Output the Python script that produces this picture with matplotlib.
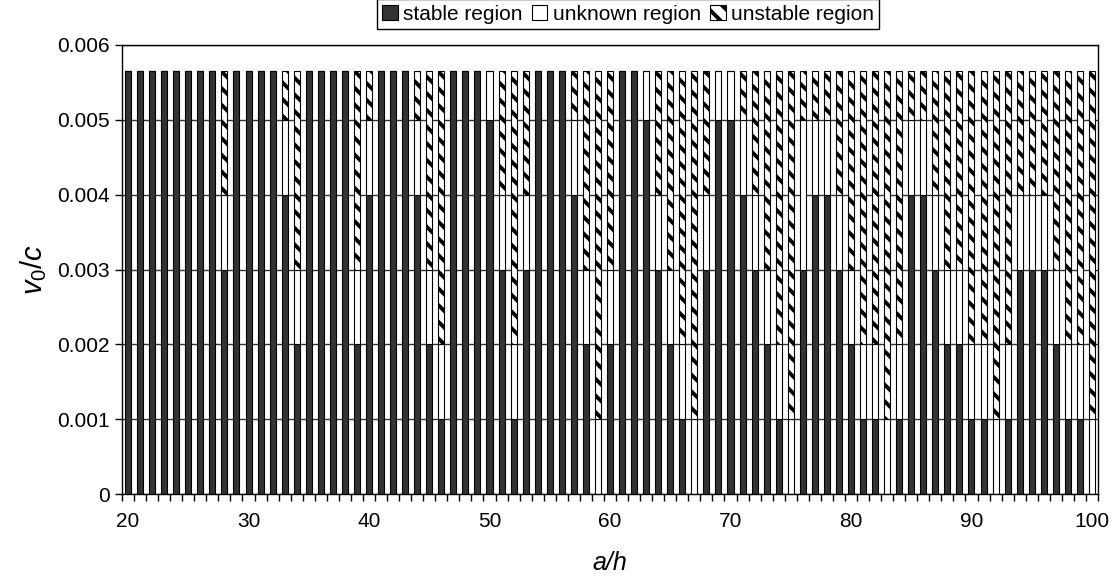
import numpy as np
import matplotlib.pyplot as plt
from matplotlib.patches import Patch

plt.rcParams['font.family'] = ['Liberation Sans', 'DejaVu Sans']
plt.rcParams['mathtext.fontset'] = 'custom'
plt.rcParams['mathtext.it'] = 'Liberation Sans:italic'
plt.rcParams['mathtext.rm'] = 'Liberation Sans'
plt.rcParams['hatch.linewidth'] = 2.8

# a/h values, one bar each
ah = list(range(20, 101))
v_max = 5.65  # top of every bar, in units of 1e-3

# upper limit of the stable region (x 1e-3)
stable_top = [5.65, 5.65, 5.65, 5.65, 5.65, 5.65, 5.65, 5.65, 3, 5.65,
              5.65, 5.65, 5.65, 4, 2, 5.65, 5.65, 5.65, 5.65, 2,
              4, 5.65, 5.65, 5.65, 4, 2, 1, 5.65, 5.65, 5.65,
              5, 3, 1, 3, 5.65, 5.65, 5.65, 4, 2, 0,
              2, 5.65, 5.65, 5, 3, 2, 1, 0, 3, 5,
              5, 4, 3, 2, 1, 0, 3, 4, 4, 3,
              2, 1, 1, 0, 1, 4, 4, 3, 2, 2,
              1, 1, 0, 1, 3, 3, 3, 2, 1, 1,
              0]
# lower limit of the unstable region (x 1e-3)
unstable_bottom = [5.65, 5.65, 5.65, 5.65, 5.65, 5.65, 5.65, 5.65, 4, 5.65,
                   5.65, 5.65, 5.65, 5, 3, 5.65, 5.65, 5.65, 5.65, 3,
                   5, 5.65, 5.65, 5.65, 5, 3, 2, 5.65, 5.65, 5.65,
                   5.65, 4, 2, 4, 5.65, 5.65, 5.65, 5, 3, 1,
                   3, 5.65, 5.65, 5.65, 4, 3, 2, 1, 4, 5.65,
                   5.65, 5, 4, 3, 2, 1, 5, 5, 5, 4,
                   3, 2, 2, 1, 2, 5, 5, 4, 3, 3,
                   2, 2, 1, 2, 4, 4, 4, 3, 2, 2,
                   1]

yticks = [0, 0.001, 0.002, 0.003, 0.004, 0.005, 0.006]
ytick_labels = ['0', '0.001', '0.002', '0.003', '0.004', '0.005', '0.006']
xlabels = [20, 30, 40, 50, 60, 70, 80, 90, 100]

s = np.array(stable_top) * 1e-3
u = np.array(unstable_bottom) * 1e-3
stable = s
unknown = u - s
unstable = v_max * 1e-3 - u

fig = plt.figure(figsize=(11.15, 5.81), dpi=100)
ax = fig.add_axes([122 / 1115, 1 - 494 / 581, 976 / 1115, 449 / 581])

x = np.arange(len(ah))
w = 0.5
ax.bar(x, stable, w, color='#333333', edgecolor='black', lw=0.8, zorder=2)
ax.bar(x, unknown, w, bottom=stable, color='white', edgecolor='black',
       lw=0.8, zorder=2)
ax.bar(x, unstable, w, bottom=stable + unknown, color='white',
       edgecolor='black', hatch='\\\\', lw=0.8, zorder=2)

ax.set_xlim(-0.5, len(ah) - 0.5)
ax.set_ylim(0, 0.006)
ax.set_yticks(yticks)
ax.set_yticklabels(ytick_labels)
ax.yaxis.grid(True, color='#333333', lw=1, zorder=0)
ax.set_axisbelow(True)

# tick marks between categories, labels every 10th category
ax.set_xticks(np.arange(len(ah) + 1) - 0.5)
ax.set_xticklabels([])
ax.set_xticks([ah.index(v) for v in xlabels], minor=True)
ax.set_xticklabels([str(v) for v in xlabels], minor=True)
ax.tick_params(axis='x', which='major', direction='out', length=5, width=1)
ax.tick_params(axis='x', which='minor', length=0, pad=13, labelsize=15)
ax.tick_params(axis='y', direction='out', length=5, width=1, labelsize=15,
               pad=4)
for sp in ax.spines.values():
    sp.set_color('black')
    sp.set_linewidth(1)

ax.set_xlabel('a/h', fontsize=18, style='italic', labelpad=14)
ax.set_ylabel(r'$v_{\mathrm{0}}/c$', fontsize=21, labelpad=6)

handles = [Patch(facecolor='#333333', edgecolor='black', lw=0.8),
           Patch(facecolor='white', edgecolor='black', lw=0.8),
           Patch(facecolor='white', edgecolor='black', hatch='\\\\', lw=0.8)]
leg = fig.legend(handles, ['stable region', 'unknown region', 'unstable region'],
                 loc='center', bbox_to_anchor=(628 / 1115, 1 - 14 / 581),
                 ncol=3, fontsize=15, handlelength=0.75, handleheight=0.75,
                 handletextpad=0.25, columnspacing=0.45, borderpad=0.25,
                 fancybox=False, edgecolor='black', framealpha=1)
leg.get_frame().set_linewidth(1)

fig.savefig('out.png', dpi=100)
